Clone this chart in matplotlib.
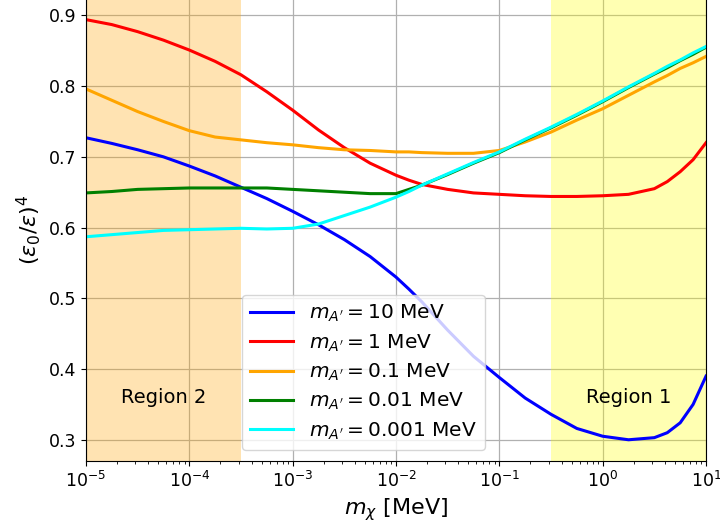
import numpy as np
import matplotlib
matplotlib.use("Agg")
import matplotlib.pyplot as plt

# log10 of m_chi [MeV]
log_m = [-5, -4.75, -4.5, -4.25, -4, -3.75, -3.5, -3.25, -3, -2.75, -2.5, -2.25,
         -2, -1.875, -1.75, -1.5, -1.25, -1, -0.75, -0.5, -0.25, 0, 0.25, 0.5,
         0.625, 0.75, 0.875, 1]

ratio_10 = [0.727, 0.719, 0.710, 0.700, 0.687, 0.673, 0.657, 0.641, 0.623, 0.604,
            0.583, 0.559, 0.530, 0.513, 0.495, 0.455, 0.418, 0.388, 0.359, 0.336,
            0.316, 0.305, 0.300, 0.303, 0.310, 0.324, 0.350, 0.390]
ratio_1 = [0.894, 0.887, 0.877, 0.865, 0.851, 0.835, 0.816, 0.792, 0.766, 0.738,
           0.713, 0.691, 0.674, 0.667, 0.661, 0.654, 0.649, 0.647, 0.645, 0.644,
           0.644, 0.645, 0.647, 0.655, 0.665, 0.679, 0.696, 0.720]
ratio_01 = [0.796, 0.780, 0.764, 0.750, 0.737, 0.728, 0.724, 0.720, 0.717, 0.713,
            0.710, 0.709, 0.707, 0.707, 0.706, 0.705, 0.705, 0.709, 0.721, 0.735,
            0.752, 0.768, 0.787, 0.806, 0.815, 0.825, 0.833, 0.842]
ratio_001 = [0.649, 0.651, 0.654, 0.655, 0.656, 0.656, 0.656, 0.656, 0.654, 0.652,
             0.650, 0.648, 0.648, 0.654, 0.660, 0.675, 0.691, 0.706, 0.724, 0.741,
             0.759, 0.778, 0.798, 0.817, 0.826, 0.836, 0.845, 0.855]
ratio_0001 = [0.587, 0.590, 0.593, 0.596, 0.597, 0.598, 0.599, 0.598, 0.599, 0.605,
              0.617, 0.629, 0.643, 0.651, 0.660, 0.676, 0.692, 0.707, 0.725, 0.742,
              0.760, 0.779, 0.799, 0.818, 0.828, 0.837, 0.847, 0.856]

labels = ["$m_{A'} = 10$ MeV", "$m_{A'} = 1$ MeV", "$m_{A'} = 0.1$ MeV",
          "$m_{A'} = 0.01$ MeV", "$m_{A'} = 0.001$ MeV"]
colors = ["blue", "red", "orange", "green", "cyan"]

m_chi = 10.0 ** np.array(log_m)

fig = plt.figure(figsize=(7.2, 5.3), dpi=100)
ax = fig.add_axes([0.1194, 0.1302, 0.8612, 0.8728])

ax.axvspan(1e-5, 10 ** -3.5, color="orange", alpha=0.3, lw=0)
ax.axvspan(10 ** -0.5, 10, color="yellow", alpha=0.3, lw=0)

for ys, c, lab in zip([ratio_10, ratio_1, ratio_01, ratio_001, ratio_0001], colors, labels):
    ax.plot(m_chi, ys, color=c, lw=2.2, label=lab)

ax.text(10 ** -4.25, 0.36, "Region 2", fontsize=14, ha="center", va="center")
ax.text(10 ** 0.25, 0.36, "Region 1", fontsize=14, ha="center", va="center")

ax.set_xscale("log")
ax.set_xlim(1e-5, 10)
ax.set_ylim(0.27, 0.924)
ax.set_yticks([0.3, 0.4, 0.5, 0.6, 0.7, 0.8, 0.9])
ax.grid(True, color="#b0b0b0", lw=0.9)
ax.set_axisbelow(True)
ax.tick_params(labelsize=12.5)
ax.spines["top"].set_visible(False)

ax.set_xlabel(r"$m_\chi$ [MeV]", fontsize=16)
ax.set_ylabel(r"$(\varepsilon_0/\varepsilon)^4$", fontsize=16)

ax.legend(loc="lower left", bbox_to_anchor=(0.252, 0.024), borderaxespad=0,
          fontsize=14.5, labelspacing=0.4, handlelength=2.1)

fig.savefig("out.png", dpi=100)
